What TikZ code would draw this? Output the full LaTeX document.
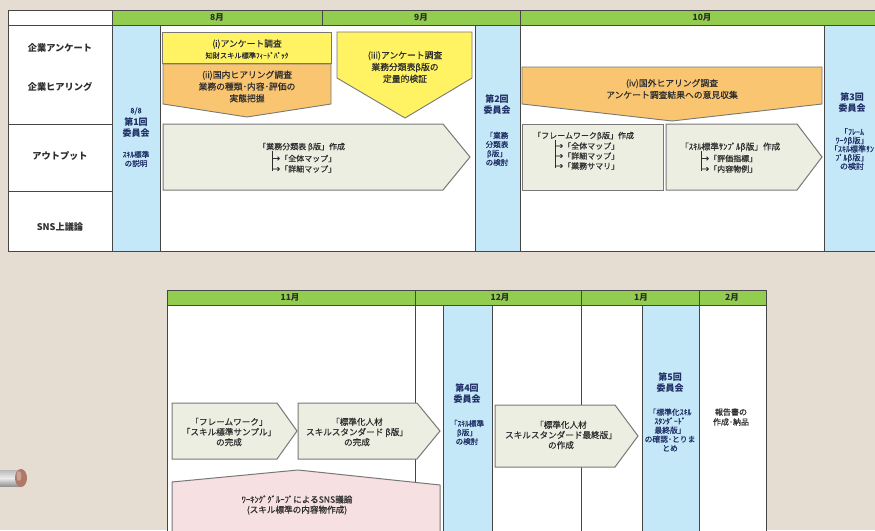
\documentclass[tikz,border=0pt]{standalone}
\usepackage{fontspec}
\setmainfont{Noto Sans CJK JP}
\newfontfamily\medf{Noto Sans CJK JP}[FakeBold=0.35]
\definecolor{bgc}{RGB}{229,221,209}
\definecolor{hdrg}{RGB}{146,205,80}
\definecolor{bluec}{RGB}{196,232,248}
\definecolor{yelc}{RGB}{255,243,100}
\definecolor{orgc}{RGB}{249,197,112}
\definecolor{palec}{RGB}{237,238,226}
\definecolor{pinkc}{RGB}{246,224,226}
\definecolor{gridc}{RGB}{70,70,70}
\definecolor{shapec}{RGB}{120,120,120}
\definecolor{navyc}{RGB}{30,45,100}
\definecolor{txtc}{RGB}{45,45,45}
\definecolor{pinc}{RGB}{175,120,105}
\tikzset{
  cell/.style={fill=white, draw=gridc, line width=0.8pt},
  hdrcell/.style={fill=hdrg, draw=gridc, line width=0.8pt},
  bluecell/.style={fill=bluec, draw=gridc, line width=0.8pt},
  yelshape/.style={fill=yelc, draw=shapec, line width=0.9pt},
  orgshape/.style={fill=orgc, draw=shapec, line width=0.9pt},
  paleshape/.style={fill=palec, draw=shapec, line width=1pt},
  pinkshape/.style={fill=pinkc, draw=shapec, line width=1pt},
  lbl/.style={font=\fontsize{9.2}{10}\selectfont\bfseries, text=txtc, inner sep=0},
  mon/.style={font=\fontsize{8.5}{9}\selectfont\bfseries, text=txtc, inner sep=0},
  shtxt/.style={font=\medf\fontsize{8.8}{11.8}\selectfont, text=txtc, align=center, inner sep=0},
  smalltxt/.style={font=\medf\fontsize{7.2}{8}\selectfont, text=txtc, align=center, inner sep=0},
  outtxt/.style={font=\medf\fontsize{8}{10}\selectfont, text=txtc, inner sep=0},
  btxt/.style={font=\medf\fontsize{8.6}{10.2}\selectfont, text=txtc, align=center, inner sep=0},
  commhd/.style={font=\fontsize{9}{11}\selectfont\bfseries, text=navyc, align=center, inner sep=0},
  commsub/.style={font=\medf\fontsize{7.6}{9}\selectfont, text=navyc, align=center, inner sep=0},
  barline/.style={draw=txtc, line width=0.7pt}
}
\begin{document}
\begin{tikzpicture}[x=1pt,y=-1pt]
\useasboundingbox (0,0) rectangle (875,530);
\clip (0,0) rectangle (875,530);
\fill[bgc] (0,0) rectangle (875,530);
% pin
\shade[top color=gray!55, bottom color=gray!85, middle color=gray!15] (-2,470) rectangle (20,486);
\fill[pinc] (21,478) ellipse (6 and 9);
\fill[pinc!70!white] (19,476) ellipse (2.5 and 5);

% ===== top table =====
\filldraw[cell] (8,10) rectangle (112,25);
\filldraw[hdrcell] (112,10) rectangle (322,25);
\filldraw[hdrcell] (322,10) rectangle (520,25);
\filldraw[hdrcell] (520,10) rectangle (885,25);
\filldraw[cell] (8,25) rectangle (112,124);
\filldraw[cell] (8,124) rectangle (112,191);
\filldraw[cell] (8,191) rectangle (112,251);
\filldraw[bluecell] (112,25) rectangle (160,251);
\filldraw[cell] (160,25) rectangle (475,251);
\filldraw[bluecell] (475,25) rectangle (520,251);
\filldraw[cell] (520,25) rectangle (824,251);
\filldraw[bluecell] (824,25) rectangle (885,251);

\node[mon] (m8) at (217,17.5) {8月};
\node[mon] (m9) at (421,17.5) {9月};
\node[mon] (m10) at (702,17.5) {10月};

\node[lbl] (l1) at (60,48) {企業アンケート};
\node[lbl] (l2) at (60,87) {企業ヒアリング};
\node[lbl] (l3) at (60,156) {アウトプット};
\node[lbl] (l4) at (60,227) {SNS上議論};

% committee 1
\node[commsub] (c1d) at (136,111) {8/8};
\node[commhd] (c1h) at (136,127.5) {第1回\\委員会};
\node[commsub] (c1s) at (136,159) {ｽｷﾙ標準\\の説明};
% committee 2
\node[commhd] (c2h) at (497,105) {第2回\\委員会};
\node[commsub] (c2s) at (497,149) {「業務\\分類表\\β版」\\の検討};
% committee 3
\node[commhd] (c3h) at (852,103) {第3回\\委員会};
\node[commsub, font=\medf\fontsize{8}{8.6}\selectfont] (c3s) at (852,149) {「ﾌﾚｰﾑ\\ﾜｰｸβ版」\\「ｽｷﾙ標準ｻﾝ\\ﾌﾟﾙβ版」\\の検討};

% (i)
\filldraw[yelshape] (162,32) rectangle (331,63);
\node[shtxt] (t1) at (247,44) {(i)アンケート調査};
\node[smalltxt] (t1b) at (247,55.5) {知財スキル標準ﾌｨｰﾄﾞﾊﾞｯｸ};
% (ii)
\filldraw[orgshape] (163,64) -- (331,64) -- (331,104) -- (247,117) -- (163,104) -- cycle;
\node[shtxt] (t2) at (247,86.5) {(ii)国内ヒアリング調査\\業務の種類･内容･評価の\\実態把握};
% (iii)
\filldraw[yelshape] (337,32) -- (472,32) -- (472,78) -- (405,118) -- (337,78) -- cycle;
\node[shtxt] (t3) at (405,67) {(iii)アンケート調査\\業務分類表β版の\\定量的検証};
% (iv)
\filldraw[orgshape] (522,67) -- (822,67) -- (822,104) -- (672,121) -- (522,104) -- cycle;
\node[shtxt] (t4) at (672,89) {(iv)国外ヒアリング調査\\アンケート調査結果への意見収集};

% outputs
\filldraw[paleshape] (163,124) -- (443,124) -- (470,157) -- (443,190) -- (163,190) -- cycle;
\node[outtxt, anchor=west] (o1) at (258,147) {「業務分類表 β版」作成};
\draw[barline] (272,151) -- (272,171);
\node[outtxt, anchor=west] (o1a) at (272,158.5) {→「全体マップ」};
\node[outtxt, anchor=west] (o1b) at (272,169) {→「詳細マップ」};

\filldraw[paleshape] (522,124) rectangle (663,190);
\node[outtxt, anchor=west] (o2) at (533,136) {「フレームワークβ版」作成};
\draw[barline] (555,140) -- (555,168);
\node[outtxt, anchor=west] (o2a) at (555,146) {→「全体マップ」};
\node[outtxt, anchor=west] (o2b) at (555,156) {→「詳細マップ」};
\node[outtxt, anchor=west] (o2c) at (555,166) {→「業務サマリ」};

\filldraw[paleshape] (666,124) -- (797,124) -- (822,157) -- (797,190) -- (666,190) -- cycle;
\node[outtxt, anchor=west, font=\medf\fontsize{8.6}{10}\selectfont] (o3) at (680,147) {「ｽｷﾙ標準ｻﾝﾌﾟﾙβ版」作成};
\draw[barline] (701,151) -- (701,171);
\node[outtxt, anchor=west] (o3a) at (701,158.5) {→「評価指標」};
\node[outtxt, anchor=west] (o3b) at (701,169) {→「内容物例」};

% ===== bottom table =====
\filldraw[hdrcell] (167,290) rectangle (415,305);
\filldraw[hdrcell] (415,290) rectangle (581,305);
\filldraw[hdrcell] (581,290) rectangle (699,305);
\filldraw[hdrcell] (699,290) rectangle (766,305);
\filldraw[cell] (167,305) rectangle (766,540);
\draw[gridc, line width=0.8pt] (415,305) -- (415,540);
\draw[gridc, line width=0.8pt] (581,305) -- (581,540);
\filldraw[bluecell] (443,305) rectangle (492,540);
\filldraw[bluecell] (642,305) rectangle (699,540);

\node[mon] (m11) at (290,297.5) {11月};
\node[mon] (m12) at (500,297.5) {12月};
\node[mon] (m1) at (641,297.5) {1月};
\node[mon] (m2) at (732,297.5) {2月};

\filldraw[paleshape] (172,403) -- (277,403) -- (297,431) -- (277,459) -- (172,459) -- cycle;
\node[btxt] (b1) at (229,432) {「フレームワーク」\\「スキル標準サンプル」\\の完成};
\filldraw[paleshape] (298,403) -- (417,403) -- (440,431) -- (417,459) -- (298,459) -- cycle;
\node[btxt] (b2) at (357,432) {「標準化人材\\スキルスタンダード β版」\\の完成};
\filldraw[paleshape] (495,405) -- (615,405) -- (638,436) -- (615,467) -- (495,467) -- cycle;
\node[btxt] (b3) at (561,435) {「標準化人材\\スキルスタンダード最終版」\\の作成};
\filldraw[pinkshape] (172,482) -- (298,470) -- (440,485) -- (440,540) -- (172,540) -- cycle;
\node[btxt] (b4) at (297,505) {ﾜｰｷﾝｸﾞｸﾞﾙｰﾌﾟによるSNS議論\\(スキル標準の内容物作成)};

% committee 4
\node[commhd] (c4h) at (467,394) {第4回\\委員会};
\node[commsub] (c4s) at (467,432.5) {「ｽｷﾙ標準\\β版」\\の検討};
% committee 5
\node[commhd] (c5h) at (670,383) {第5回\\委員会};
\node[commsub, font=\medf\fontsize{7.8}{9}\selectfont] (c5s) at (670,430) {「標準化ｽｷﾙ\\ｽﾀﾝﾀﾞｰﾄﾞ\\最終版」\\の確認･とりま\\とめ};
% report
\node[commsub, text=txtc, font=\medf\fontsize{8}{10}\selectfont] (rp) at (731,417) {報告書の\\作成･納品};
\end{tikzpicture}
\end{document}
